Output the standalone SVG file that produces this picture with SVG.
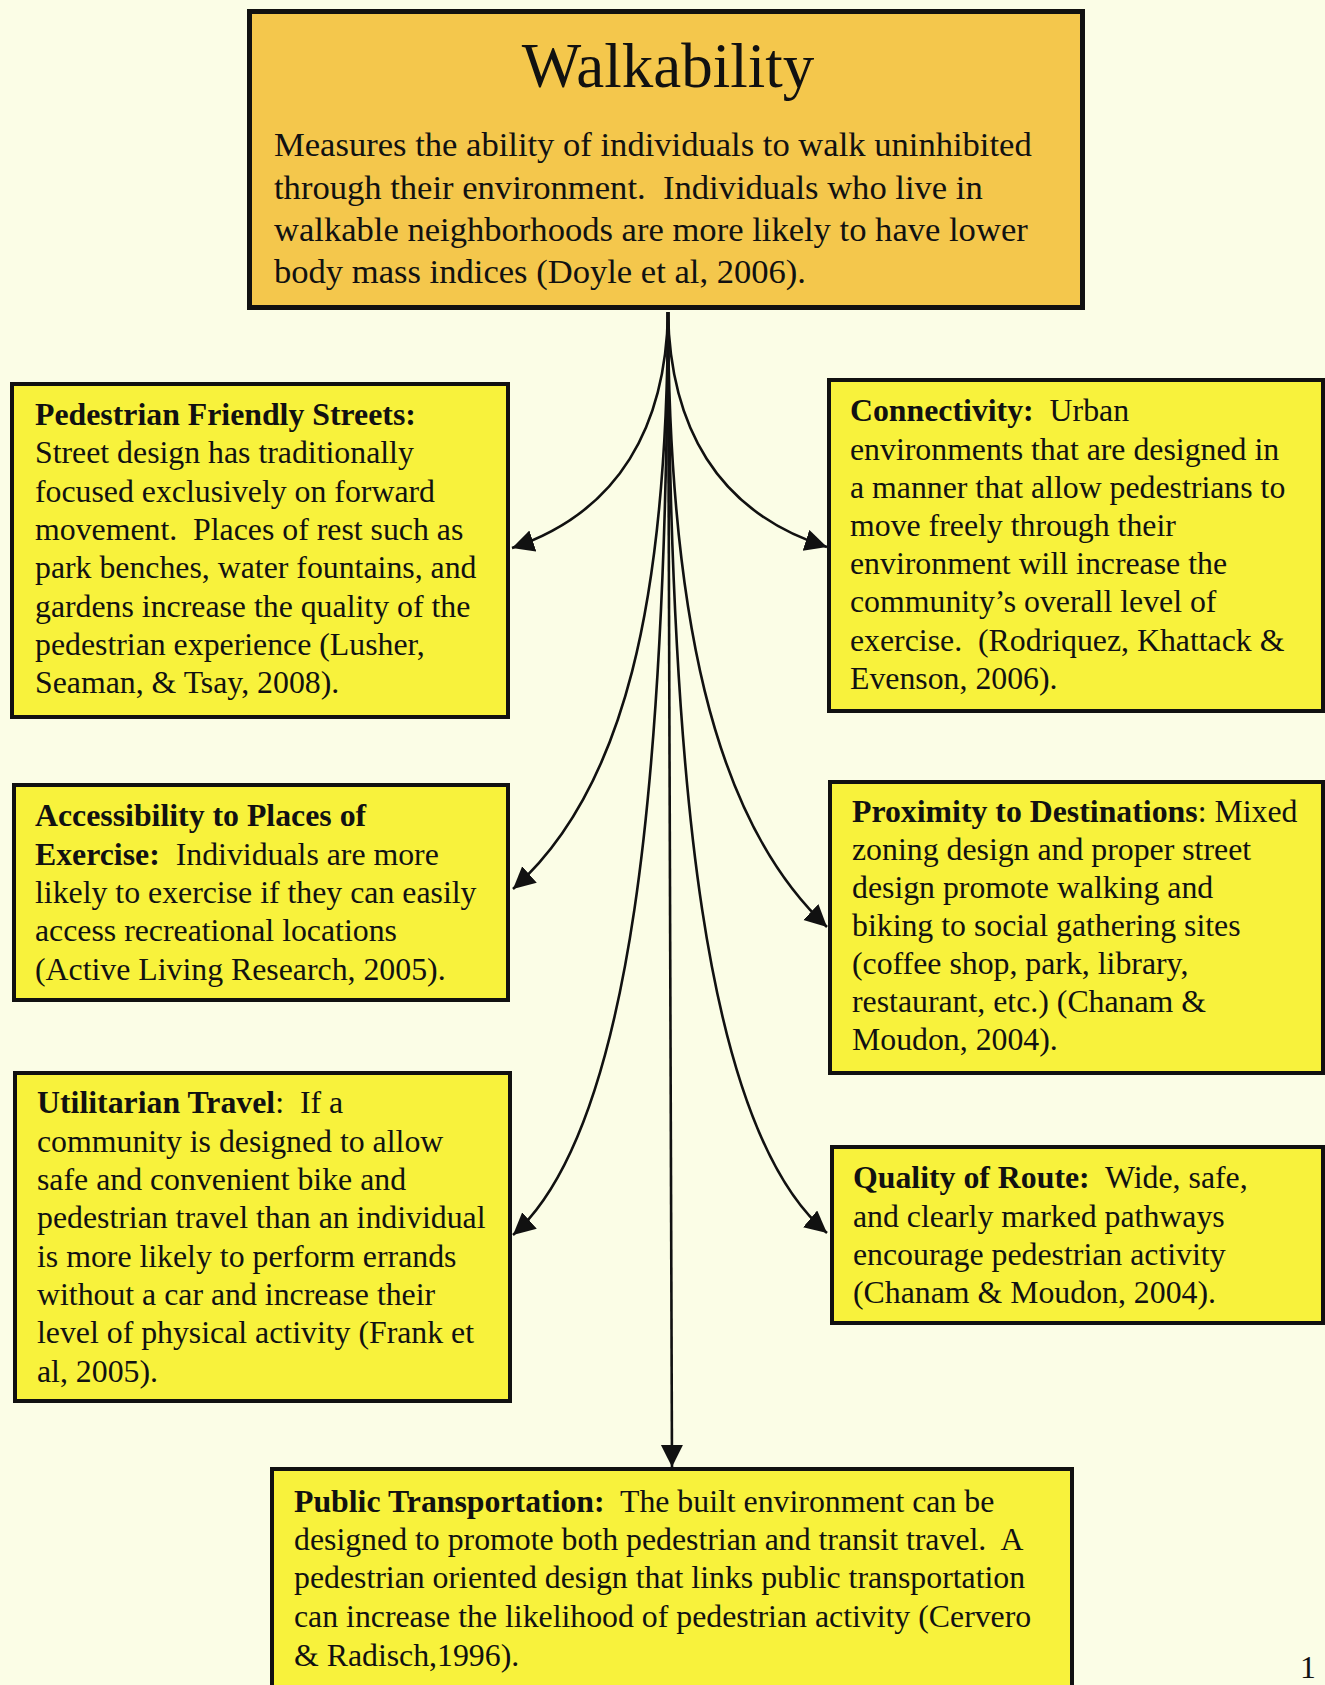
<svg xmlns="http://www.w3.org/2000/svg" width="1325" height="1685" viewBox="0 0 1325 1685">
<style>
.bg{fill:#FBFDE6}
.box{fill:#F8F23C;stroke:#111;stroke-width:4}
.main{fill:#F4C74C;stroke:#111;stroke-width:5}
text{font-family:"Liberation Serif","Times New Roman",serif;fill:#111}
.t{font-size:31.8px}
.m{font-size:34.6px}
.title{font-size:63px;text-anchor:middle}
.b{font-weight:bold}
.c{fill:none;stroke:#111;stroke-width:2.6}
</style>
<defs>
<marker id="arr" markerUnits="userSpaceOnUse" markerWidth="24" markerHeight="24" refX="22" refY="11" orient="auto">
<path d="M0,0 L22,11 L0,22 Z" fill="#111"/>
</marker>
</defs>
<rect class="bg" x="0" y="0" width="1325" height="1685"/>

<g id="connectors">
<path class="c" d="M668 312 C666 425 620 512 512 548" marker-end="url(#arr)"/>
<path class="c" d="M668 312 C670 425 716 512 827 547" marker-end="url(#arr)"/>
<path class="c" d="M668 312 C667 600 625 790 513 889" marker-end="url(#arr)"/>
<path class="c" d="M668 312 C669 610 712 820 827 927" marker-end="url(#arr)"/>
<path class="c" d="M668 312 C666 780 632 1130 513 1235" marker-end="url(#arr)"/>
<path class="c" d="M668 312 C670 780 704 1130 827 1233" marker-end="url(#arr)"/>
<path class="c" d="M668 312 L672 1467" marker-end="url(#arr)"/>
</g>

<g id="walkability">
<rect class="main" x="249.5" y="11.5" width="833" height="296"/>
<text class="title" x="668" y="87">Walkability</text>
<text class="m" x="274" y="156">Measures the ability of individuals to walk uninhibited</text>
<text class="m" x="274" y="199" xml:space="preserve">through their environment.  Individuals who live in</text>
<text class="m" x="274" y="241">walkable neighborhoods are more likely to have lower</text>
<text class="m" x="274" y="283">body mass indices (Doyle et al, 2006).</text>
</g>

<g id="pedestrian-friendly-streets">
<rect class="box" x="12" y="384" width="496" height="333"/>
<text class="t b" x="35" y="425">Pedestrian Friendly Streets:</text>
<text class="t" x="35" y="463">Street design has traditionally</text>
<text class="t" x="35" y="502">focused exclusively on forward</text>
<text class="t" x="35" y="540" xml:space="preserve">movement.  Places of rest such as</text>
<text class="t" x="35" y="578">park benches, water fountains, and</text>
<text class="t" x="35" y="617">gardens increase the quality of the</text>
<text class="t" x="35" y="655">pedestrian experience (Lusher,</text>
<text class="t" x="35" y="693">Seaman, &amp; Tsay, 2008).</text>
</g>

<g id="connectivity">
<rect class="box" x="829" y="380" width="494" height="331"/>
<text class="t" x="850" y="421" xml:space="preserve"><tspan class="b">Connectivity:</tspan>  Urban</text>
<text class="t" x="850" y="460">environments that are designed in</text>
<text class="t" x="850" y="498">a manner that allow pedestrians to</text>
<text class="t" x="850" y="536">move freely through their</text>
<text class="t" x="850" y="574">environment will increase the</text>
<text class="t" x="850" y="612">community’s overall level of</text>
<text class="t" x="850" y="651" xml:space="preserve">exercise.  (Rodriquez, Khattack &amp;</text>
<text class="t" x="850" y="689">Evenson, 2006).</text>
</g>

<g id="accessibility">
<rect class="box" x="14" y="785" width="494" height="215"/>
<text class="t b" x="35" y="826">Accessibility to Places of</text>
<text class="t" x="35" y="865" xml:space="preserve"><tspan class="b">Exercise:</tspan>  Individuals are more</text>
<text class="t" x="35" y="903">likely to exercise if they can easily</text>
<text class="t" x="35" y="941">access recreational locations</text>
<text class="t" x="35" y="980">(Active Living Research, 2005).</text>
</g>

<g id="proximity">
<rect class="box" x="830" y="782" width="493" height="291"/>
<text class="t" x="852" y="822"><tspan class="b">Proximity to Destinations</tspan>: Mixed</text>
<text class="t" x="852" y="860">zoning design and proper street</text>
<text class="t" x="852" y="898">design promote walking and</text>
<text class="t" x="852" y="936">biking to social gathering sites</text>
<text class="t" x="852" y="974">(coffee shop, park, library,</text>
<text class="t" x="852" y="1012">restaurant, etc.) (Chanam &amp;</text>
<text class="t" x="852" y="1050">Moudon, 2004).</text>
</g>

<g id="utilitarian-travel">
<rect class="box" x="15" y="1073" width="495" height="328"/>
<text class="t" x="37" y="1113" xml:space="preserve"><tspan class="b">Utilitarian Travel</tspan>:  If a</text>
<text class="t" x="37" y="1152">community is designed to allow</text>
<text class="t" x="37" y="1190">safe and convenient bike and</text>
<text class="t" x="37" y="1228">pedestrian travel than an individual</text>
<text class="t" x="37" y="1267">is more likely to perform errands</text>
<text class="t" x="37" y="1305">without a car and increase their</text>
<text class="t" x="37" y="1343">level of physical activity (Frank et</text>
<text class="t" x="37" y="1382">al, 2005).</text>
</g>

<g id="quality-of-route">
<rect class="box" x="832" y="1147" width="491" height="176"/>
<text class="t" x="853" y="1188" xml:space="preserve"><tspan class="b">Quality of Route:</tspan>  Wide, safe,</text>
<text class="t" x="853" y="1227">and clearly marked pathways</text>
<text class="t" x="853" y="1265">encourage pedestrian activity</text>
<text class="t" x="853" y="1303">(Chanam &amp; Moudon, 2004).</text>
</g>

<g id="public-transportation">
<rect class="box" x="272" y="1469" width="800" height="240"/>
<text class="t" x="294" y="1512" xml:space="preserve"><tspan class="b">Public Transportation:</tspan>  The built environment can be</text>
<text class="t" x="294" y="1550" xml:space="preserve">designed to promote both pedestrian and transit travel.  A</text>
<text class="t" x="294" y="1588">pedestrian oriented design that links public transportation</text>
<text class="t" x="294" y="1627">can increase the likelihood of pedestrian activity (Cervero</text>
<text class="t" x="294" y="1666">&amp; Radisch,1996).</text>
</g>

<text class="t" x="1300" y="1678">1</text>
</svg>
